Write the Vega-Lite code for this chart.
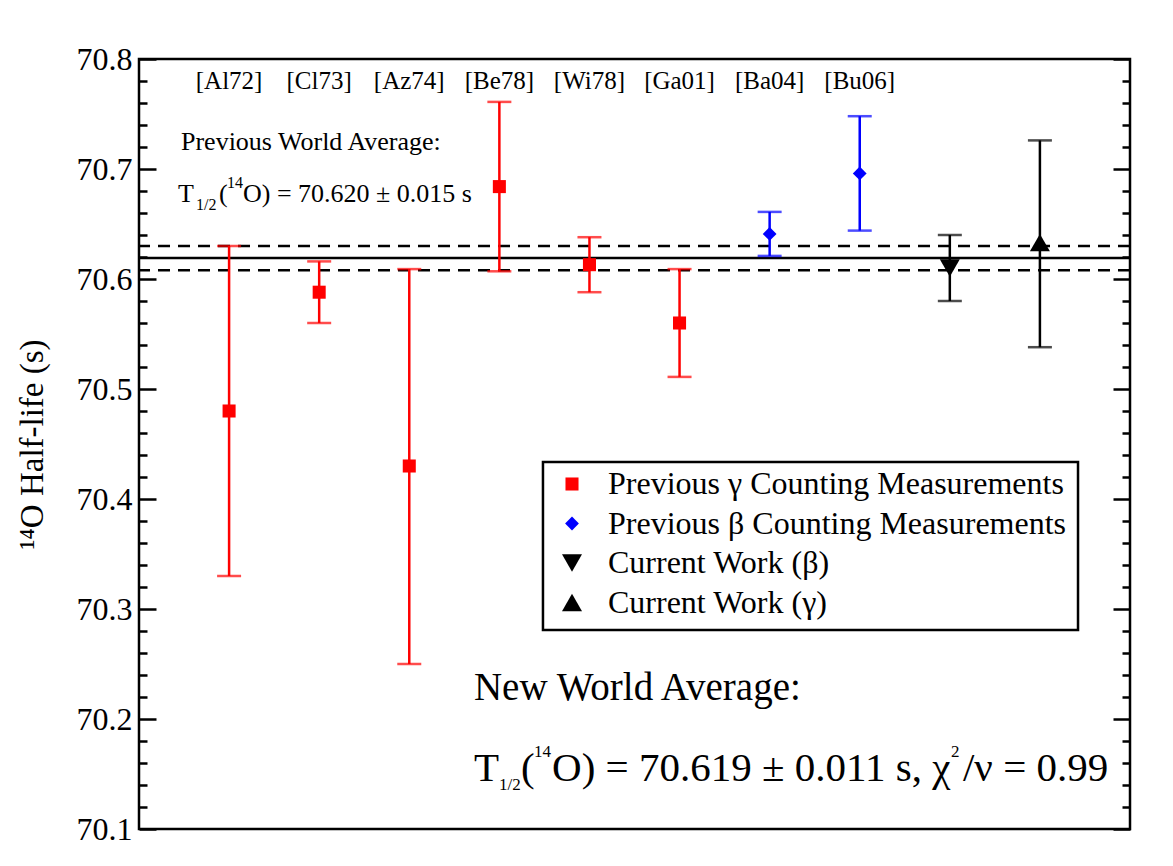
{
  "$schema": "https://vega.github.io/schema/vega-lite/v6.json",
  "width": 991,
  "height": 770,
  "autosize": {"type": "none"},
  "padding": {"left": 139, "top": 59, "right": 43, "bottom": 37},
  "background": "white",
  "config": {
    "view": {"stroke": "black", "strokeWidth": 2.5},
    "font": "Liberation Serif",
    "axis": {"labelFont": "Liberation Serif", "titleFont": "Liberation Serif"},
    "legend": {"labelFont": "Liberation Serif"},
    "text": {"font": "Liberation Serif", "color": "black"}
  },
  "datasets": {
    "pts": [
      {"ref": "[Al72]", "x": 1, "y": 70.48, "lo": 70.33, "hi": 70.63, "g": "Previous γ Counting Measurements"},
      {"ref": "[Cl73]", "x": 2, "y": 70.588, "lo": 70.56, "hi": 70.616, "g": "Previous γ Counting Measurements"},
      {"ref": "[Az74]", "x": 3, "y": 70.43, "lo": 70.25, "hi": 70.609, "g": "Previous γ Counting Measurements"},
      {"ref": "[Be78]", "x": 4, "y": 70.684, "lo": 70.607, "hi": 70.761, "g": "Previous γ Counting Measurements"},
      {"ref": "[Wi78]", "x": 5, "y": 70.613, "lo": 70.588, "hi": 70.638, "g": "Previous γ Counting Measurements"},
      {"ref": "[Ga01]", "x": 6, "y": 70.56, "lo": 70.511, "hi": 70.609, "g": "Previous γ Counting Measurements"},
      {"ref": "[Ba04]", "x": 7, "y": 70.641, "lo": 70.621, "hi": 70.661, "g": "Previous β Counting Measurements"},
      {"ref": "[Bu06]", "x": 8, "y": 70.696, "lo": 70.644, "hi": 70.748, "g": "Previous β Counting Measurements"},
      {"ref": "", "x": 9, "y": 70.61, "lo": 70.58, "hi": 70.64, "g": "Current Work (β)"},
      {"ref": "", "x": 10, "y": 70.633, "lo": 70.538, "hi": 70.726, "g": "Current Work (γ)"}
    ],
    "smallMain": [
      {"x": 0.466, "y": 70.7173, "t": "Previous World Average:"},
      {"x": 0.433, "y": 70.67, "t": "T"},
      {"x": 0.888, "y": 70.67, "t": "("},
      {"x": 1.154, "y": 70.67, "t": "O) = 70.620 ± 0.015 s"}
    ],
    "smallScript": [
      {"x": 0.633, "y": 70.6627, "t": "1/2"},
      {"x": 0.977, "y": 70.6827, "t": "14"}
    ],
    "bigTitle": [
      {"x": 3.718, "y": 70.2173, "t": "New World Average:"}
    ],
    "bigMain": [
      {"x": 3.718, "y": 70.1436, "t": "T"},
      {"x": 4.24, "y": 70.1436, "t": "("},
      {"x": 4.585, "y": 70.1436, "t": "O) = 70.619 ± 0.011 s, χ"},
      {"x": 9.146, "y": 70.1436, "t": "/ν = 0.99"}
    ],
    "bigScript": [
      {"x": 3.996, "y": 70.1355, "t": "1/2"},
      {"x": 4.385, "y": 70.1655, "t": "14"},
      {"x": 9.013, "y": 70.1655, "t": "2"}
    ]
  },
  "layer": [
    {
      "data": {"values": [{"v": 70.63}, {"v": 70.608}]},
      "mark": {"type": "rule", "strokeDash": [12, 8], "strokeWidth": 2.5, "color": "black"},
      "encoding": {
        "y": {"field": "v", "type": "quantitative", "scale": {"domain": [70.1, 70.8], "nice": false, "zero": false}, "axis": null}
      }
    },
    {
      "data": {"values": [{"v": 70.619}]},
      "mark": {"type": "rule", "strokeWidth": 2.5, "color": "black"},
      "encoding": {
        "y": {
          "field": "v", "type": "quantitative",
          "scale": {"domain": [70.1, 70.8], "nice": false, "zero": false},
          "axis": {
            "orient": "right",
            "values": [70.1, 70.12, 70.14, 70.16, 70.18, 70.2, 70.22, 70.24, 70.26, 70.28, 70.3, 70.32, 70.34, 70.36, 70.38, 70.4, 70.42, 70.44, 70.46, 70.48, 70.5, 70.52, 70.54, 70.56, 70.58, 70.6, 70.62, 70.64, 70.66, 70.68, 70.7, 70.72, 70.74, 70.76, 70.78, 70.8],
            "tickSize": {"condition": {"test": "abs(datum.value*10 - round(datum.value*10)) < 0.001", "value": -17}, "value": -8},
            "tickWidth": 2.5,
            "tickColor": "black",
            "domain": false,
            "grid": false,
            "labels": false,
            "title": null
          }
        }
      }
    },
    {
      "data": {"values": [{"x1": 4.484, "x2": 10.423, "y1": 70.4336, "y2": 70.2809}]},
      "mark": {"type": "rect", "fill": "white", "stroke": "black", "strokeWidth": 2.5},
      "encoding": {
        "x": {"field": "x1", "type": "quantitative", "scale": {"domain": [0, 11], "nice": false, "zero": false}, "axis": null},
        "x2": {"field": "x2"},
        "y": {"field": "y1", "type": "quantitative", "scale": {"domain": [70.1, 70.8], "nice": false, "zero": false}, "axis": null},
        "y2": {"field": "y2"}
      }
    },
    {
      "data": {"name": "pts"},
      "mark": {"type": "rule", "strokeWidth": 2.5},
      "encoding": {
        "x": {"field": "x", "type": "quantitative", "scale": {"domain": [0, 11], "nice": false, "zero": false}, "axis": null},
        "y": {
          "field": "lo", "type": "quantitative",
          "scale": {"domain": [70.1, 70.8], "nice": false, "zero": false},
          "axis": {
            "orient": "left",
            "values": [70.1, 70.12, 70.14, 70.16, 70.18, 70.2, 70.22, 70.24, 70.26, 70.28, 70.3, 70.32, 70.34, 70.36, 70.38, 70.4, 70.42, 70.44, 70.46, 70.48, 70.5, 70.52, 70.54, 70.56, 70.58, 70.6, 70.62, 70.64, 70.66, 70.68, 70.7, 70.72, 70.74, 70.76, 70.78, 70.8],
            "tickSize": {"condition": {"test": "abs(datum.value*10 - round(datum.value*10)) < 0.001", "value": -17}, "value": -8},
            "tickWidth": 2.5,
            "tickColor": "black",
            "domain": false,
            "grid": false,
            "labelExpr": "abs(datum.value*10 - round(datum.value*10)) < 0.001 ? format(datum.value, '.1f') : ''",
            "labelOverlap": false,
            "labelFlush": false,
            "labelFont": "Liberation Serif",
            "labelFontSize": 32,
            "labelColor": "black",
            "labelPadding": 24,
            "title": "\u00a0\u00a0\u00a0¹⁴O Half-life (s)",
            "titleFont": "Liberation Serif",
            "titleFontSize": 33,
            "titleFontWeight": "normal",
            "titleColor": "black",
            "titlePadding": 27
          }
        },
        "y2": {"field": "hi"},
        "color": {
          "field": "g", "type": "nominal",
          "scale": {"domain": ["Previous γ Counting Measurements", "Previous β Counting Measurements", "Current Work (β)", "Current Work (γ)"], "range": ["#ff0000", "#0000ff", "#000000", "#000000"]},
          "legend": null
        }
      }
    },
    {
      "data": {"name": "pts"},
      "mark": {"type": "tick", "orient": "horizontal", "size": 24, "thickness": 2.5},
      "encoding": {
        "x": {"field": "x", "type": "quantitative", "scale": {"domain": [0, 11], "nice": false, "zero": false}, "axis": null},
        "y": {"field": "lo", "type": "quantitative", "scale": {"domain": [70.1, 70.8], "nice": false, "zero": false}, "axis": null},
        "color": {"field": "g", "type": "nominal", "legend": null}
      }
    },
    {
      "data": {"name": "pts"},
      "mark": {"type": "tick", "orient": "horizontal", "size": 24, "thickness": 2.5},
      "encoding": {
        "x": {"field": "x", "type": "quantitative", "scale": {"domain": [0, 11], "nice": false, "zero": false}, "axis": null},
        "y": {"field": "hi", "type": "quantitative", "scale": {"domain": [70.1, 70.8], "nice": false, "zero": false}, "axis": null},
        "color": {"field": "g", "type": "nominal", "legend": null}
      }
    },
    {
      "data": {"name": "pts"},
      "mark": {"type": "point", "filled": true, "opacity": 1},
      "encoding": {
        "x": {"field": "x", "type": "quantitative", "scale": {"domain": [0, 11], "nice": false, "zero": false}, "axis": null},
        "y": {"field": "y", "type": "quantitative", "scale": {"domain": [70.1, 70.8], "nice": false, "zero": false}, "axis": null},
        "color": {
          "field": "g", "type": "nominal",
          "legend": {
            "title": null,
            "orient": "none",
            "legendX": 404,
            "legendY": 397,
            "padding": 12,
            "labelFont": "Liberation Serif",
            "labelFontSize": 32,
            "labelColor": "black",
            "labelLimit": 0,
            "labelOffset": 20,
            "symbolOffset": 1,
            "rowPadding": 7.5
          }
        },
        "shape": {
          "field": "g", "type": "nominal",
          "scale": {"domain": ["Previous γ Counting Measurements", "Previous β Counting Measurements", "Current Work (β)", "Current Work (γ)"], "range": ["square", "diamond", "triangle-down", "triangle-up"]},
          "legend": {
            "title": null,
            "orient": "none",
            "legendX": 404,
            "legendY": 397,
            "padding": 12,
            "labelFont": "Liberation Serif",
            "labelFontSize": 32,
            "labelColor": "black",
            "labelLimit": 0,
            "labelOffset": 20,
            "symbolOffset": 1,
            "rowPadding": 7.5
          }
        },
        "size": {
          "field": "g", "type": "nominal",
          "scale": {"type": "ordinal", "domain": ["Previous γ Counting Measurements", "Previous β Counting Measurements", "Current Work (β)", "Current Work (γ)"], "range": [170, 190, 400, 400]},
          "legend": {
            "title": null,
            "orient": "none",
            "legendX": 404,
            "legendY": 397,
            "padding": 12,
            "labelFont": "Liberation Serif",
            "labelFontSize": 32,
            "labelColor": "black",
            "labelLimit": 0,
            "labelOffset": 20,
            "symbolOffset": 1,
            "rowPadding": 7.5
          }
        }
      }
    },
    {
      "data": {"name": "pts"},
      "transform": [{"filter": "datum.ref != ''"}],
      "mark": {"type": "text", "fontSize": 25, "align": "center", "baseline": "middle", "font": "Liberation Serif", "color": "black"},
      "encoding": {
        "x": {"field": "x", "type": "quantitative", "scale": {"domain": [0, 11], "nice": false, "zero": false}, "axis": null},
        "y": {"datum": 70.78, "type": "quantitative", "scale": {"domain": [70.1, 70.8], "nice": false, "zero": false}, "axis": null},
        "text": {"field": "ref"}
      }
    },
    {
      "data": {"name": "smallMain"},
      "mark": {"type": "text", "fontSize": 26, "align": "left", "baseline": "alphabetic", "font": "Liberation Serif", "color": "black"},
      "encoding": {
        "x": {"field": "x", "type": "quantitative", "scale": {"domain": [0, 11], "nice": false, "zero": false}, "axis": null},
        "y": {"field": "y", "type": "quantitative", "scale": {"domain": [70.1, 70.8], "nice": false, "zero": false}, "axis": null},
        "text": {"field": "t"}
      }
    },
    {
      "data": {"name": "smallScript"},
      "mark": {"type": "text", "fontSize": 16, "align": "left", "baseline": "alphabetic", "font": "Liberation Serif", "color": "black"},
      "encoding": {
        "x": {"field": "x", "type": "quantitative", "scale": {"domain": [0, 11], "nice": false, "zero": false}, "axis": null},
        "y": {"field": "y", "type": "quantitative", "scale": {"domain": [70.1, 70.8], "nice": false, "zero": false}, "axis": null},
        "text": {"field": "t"}
      }
    },
    {
      "data": {"name": "bigTitle"},
      "mark": {"type": "text", "fontSize": 39, "align": "left", "baseline": "alphabetic", "font": "Liberation Serif", "color": "black"},
      "encoding": {
        "x": {"field": "x", "type": "quantitative", "scale": {"domain": [0, 11], "nice": false, "zero": false}, "axis": null},
        "y": {"field": "y", "type": "quantitative", "scale": {"domain": [70.1, 70.8], "nice": false, "zero": false}, "axis": null},
        "text": {"field": "t"}
      }
    },
    {
      "data": {"name": "bigMain"},
      "mark": {"type": "text", "fontSize": 41, "align": "left", "baseline": "alphabetic", "font": "Liberation Serif", "color": "black"},
      "encoding": {
        "x": {"field": "x", "type": "quantitative", "scale": {"domain": [0, 11], "nice": false, "zero": false}, "axis": null},
        "y": {"field": "y", "type": "quantitative", "scale": {"domain": [70.1, 70.8], "nice": false, "zero": false}, "axis": null},
        "text": {"field": "t"}
      }
    },
    {
      "data": {"name": "bigScript"},
      "mark": {"type": "text", "fontSize": 17, "align": "left", "baseline": "alphabetic", "font": "Liberation Serif", "color": "black"},
      "encoding": {
        "x": {"field": "x", "type": "quantitative", "scale": {"domain": [0, 11], "nice": false, "zero": false}, "axis": null},
        "y": {"field": "y", "type": "quantitative", "scale": {"domain": [70.1, 70.8], "nice": false, "zero": false}, "axis": null},
        "text": {"field": "t"}
      }
    }
  ],
  "resolve": {"axis": {"y": "independent"}, "legend": {"color": "independent", "shape": "independent", "size": "independent"}}
}
